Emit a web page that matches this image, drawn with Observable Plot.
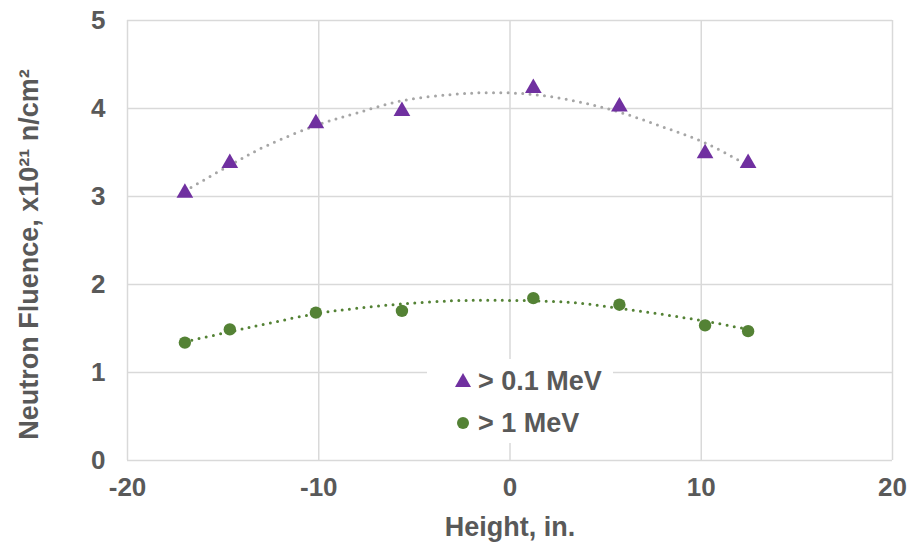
<!DOCTYPE html>
<html>
<head>
<meta charset="utf-8">
<script src="https://cdn.jsdelivr.net/npm/d3@7"></script>
<script src="https://cdn.jsdelivr.net/npm/@observablehq/plot@0.6"></script>
<style>
  html, body { margin: 0; padding: 0; background: #fff; }
  #wrap { position: relative; width: 912px; height: 549px; font-family: "Liberation Sans", Arial, sans-serif; }
  #legend { position: absolute; left: 427px; top: 359px; width: 186px; height: 84px; background: #fff;
            font-weight: bold; font-size: 27px; color: #595959; }
  .row { position: absolute; left: 0; display: flex; align-items: center; height: 30px; }
  .row svg { display: block; }
  .row span { margin-left: 5px; white-space: nowrap; }
</style>
</head>
<body>
<div id="wrap"></div>
<script>
// Data
const heights = [-17.0, -14.65, -10.15, -5.65, 1.22, 5.72, 10.2, 12.45];
const fluenceAbove01 = [3.04, 3.38, 3.83, 3.97, 4.23, 4.02, 3.49, 3.38];
const fluenceAbove1 = [1.34, 1.49, 1.68, 1.70, 1.845, 1.77, 1.535, 1.47];

// Trendline (polynomial, as drawn) points
const trendX = [-17, -14.7, -12.7, -10.1, -8, -5.6, -3, -1, 1.2, 3.5, 5.7, 8, 10.3, 12.45];
const trendAbove01 = [3.06, 3.35, 3.58, 3.81, 3.95, 4.09, 4.16, 4.18, 4.16, 4.08, 3.96, 3.79, 3.60, 3.35];
const trendAbove1 = [1.35, 1.46, 1.555, 1.67, 1.73, 1.78, 1.815, 1.82, 1.815, 1.79, 1.73, 1.66, 1.58, 1.49];

const xTicks = [-20, -10, 0, 10, 20];
const yTicks = [0, 1, 2, 3, 4, 5];
const xTitle = "Height, in.";
const yTitle = "Neutron Fluence, x10²¹ n/cm²";
const seriesNames = ["> 0.1 MeV", "> 1 MeV"];
const colors = ["#7030A0", "#548235"];
const trendColors = ["#A6A6A6", "#548235"];

const pts01 = heights.map((h, i) => ({x: h, y: fluenceAbove01[i]}));
const pts1 = heights.map((h, i) => ({x: h, y: fluenceAbove1[i]}));
const tr01 = trendX.map((h, i) => ({x: h, y: trendAbove01[i]}));
const tr1 = trendX.map((h, i) => ({x: h, y: trendAbove1[i]}));

const chart = Plot.plot({
  width: 912,
  height: 549,
  marginLeft: 127,
  marginRight: 20,
  marginTop: 20,
  marginBottom: 89,
  x: {domain: [-20, 20]},
  y: {domain: [0, 5]},
  style: {fontFamily: "'Liberation Sans', Arial, sans-serif", fontWeight: "bold", fontSize: "26px", color: "#595959", background: "#fff"},
  marks: [
    Plot.gridX(xTicks, {stroke: "#D9D9D9", strokeOpacity: 1, strokeWidth: 1.5}),
    Plot.gridY(yTicks, {stroke: "#D9D9D9", strokeOpacity: 1, strokeWidth: 1.5}),
    Plot.axisX(xTicks, {tickSize: 0, tickPadding: 17, tickFormat: d => String(d), label: null, fill: "#595959"}),
    Plot.axisY(yTicks, {tickSize: 0, tickPadding: 22, tickFormat: d => String(d), label: null, fill: "#595959"}),
    Plot.text([xTitle], {frameAnchor: "bottom", dy: 67, lineAnchor: "middle", textAnchor: "middle", fontSize: 27, fill: "#595959"}),
    Plot.text([yTitle], {frameAnchor: "left", rotate: -90, dx: -98, dy: 14, lineAnchor: "middle", textAnchor: "middle", fontSize: 27, fill: "#595959"}),
    Plot.line(tr01, {x: "x", y: "y", curve: "catmull-rom", stroke: trendColors[0], strokeWidth: 3, strokeDasharray: "0 7.3", strokeLinecap: "round"}),
    Plot.line(tr1, {x: "x", y: "y", curve: "catmull-rom", stroke: trendColors[1], strokeWidth: 3, strokeDasharray: "0 7.3", strokeLinecap: "round"}),
    Plot.dot(pts01, {x: "x", y: "y", symbol: "triangle", r: 6.2, fill: colors[0], stroke: "none"}),
    Plot.dot(pts1, {x: "x", y: "y", symbol: "circle", r: 6.2, fill: colors[1], stroke: "none"})
  ]
});

const wrap = document.getElementById("wrap");
wrap.appendChild(chart);

const legend = document.createElement("div");
legend.id = "legend";
legend.innerHTML = `
  <div class="row" style="top:7px;left:26px">
    <svg width="20" height="20" viewBox="-10 -10 20 20"><path d="M0,-8L8,6L-8,6Z" fill="${colors[0]}"/></svg>
    <span>${seriesNames[0].replace(">", "&gt;")}</span>
  </div>
  <div class="row" style="top:49px;left:26px">
    <svg width="20" height="20" viewBox="-10 -10 20 20"><circle r="6" fill="${colors[1]}"/></svg>
    <span>${seriesNames[1].replace(">", "&gt;")}</span>
  </div>`;
wrap.appendChild(legend);
</script>
</body>
</html>
